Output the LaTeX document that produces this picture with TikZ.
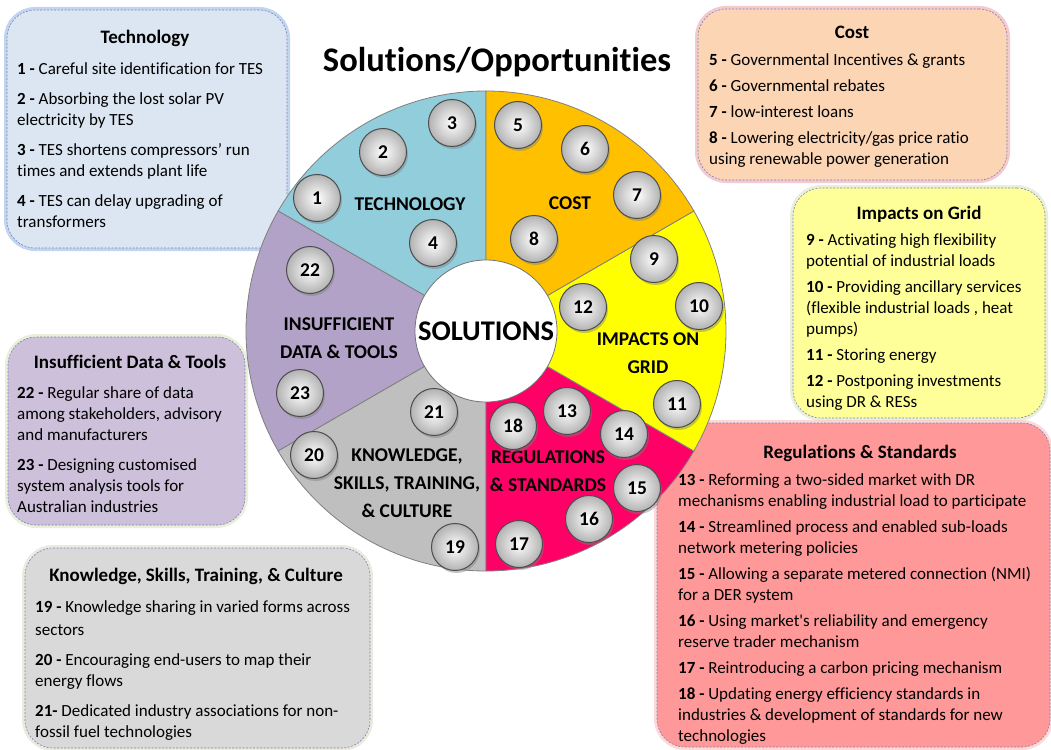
\documentclass[tikz,border=0pt]{standalone}
\usepackage{fontspec}
\setmainfont{Carlito}[Ligatures={NoCommon,TeXOff}]
\usetikzlibrary{calc,shadows}
\definecolor{wtech}{HTML}{92CDDC}
\definecolor{wcost}{HTML}{FFC000}
\definecolor{wgrid}{HTML}{FFFF00}
\definecolor{wreg}{HTML}{FF0066}
\definecolor{wknow}{HTML}{BFBFBF}
\definecolor{wins}{HTML}{B3A2C7}
\definecolor{btech}{HTML}{DCE6F2}
\definecolor{bcost}{HTML}{FCD5B5}
\definecolor{bgrid}{HTML}{FFFF99}
\definecolor{breg}{HTML}{FF9999}
\definecolor{bins}{HTML}{CCC0DA}
\definecolor{bknow}{HTML}{D9D9D9}
\definecolor{gtech}{HTML}{8EB4E3}
\definecolor{gcost}{HTML}{EBA0A8}
\definecolor{ggrid}{HTML}{D7E4BD}
\definecolor{greg}{HTML}{FFB8B8}
\definecolor{gins}{HTML}{D7E4BD}
\definecolor{gknow}{HTML}{DDD9C3}
\definecolor{dashc}{HTML}{7F7FB8}
\begin{document}
\begin{tikzpicture}[x=1pt,y=-1pt,
  wedge/.style={fill=#1, draw=black!50, line width=0.8pt},
  numc/.style={circle, minimum size=47pt, inner sep=0pt, draw=black!70, line width=1pt,
    inner color=white, outer color=black!30,
    drop shadow={shadow xshift=1.5pt, shadow yshift=-2.5pt, opacity=0.45},
    font=\bfseries\fontsize{19.5}{19.5}\selectfont},
  wlabel/.style={font=\bfseries\fontsize{19.5}{28}\selectfont, align=center, inner sep=0pt},
  infobox/.style n args={2}{rectangle, rounded corners=28pt, fill=#1, draw=dashc,
    line width=0.6pt, dash pattern=on 2pt off 1.5pt,
    preaction={draw=#2, line width=6pt, opacity=0.55, solid}},
  btitle/.style={font=\bfseries\fontsize{19}{19}\selectfont, inner sep=0pt, anchor=base},
  btext/.style={font=\fontsize{17}{21}\selectfont, align=left, inner sep=0pt, anchor=north west},
]
\useasboundingbox (0,0) rectangle (1051,749);
\fill[white] (0,0) rectangle (1051,749);

% info boxes (drawn below the wheel)
\node[infobox={btech}{gtech}, minimum width=280pt, minimum height=238pt] (btechn) at (147,129) {};
\node[infobox={bcost}{gcost}, minimum width=309pt, minimum height=171pt] (bcostn) at (852.5,94.5) {};
\node[infobox={bgrid}{ggrid}, minimum width=252pt, minimum height=230pt] (bgridn) at (919,303) {};
\node[infobox={breg}{greg}, minimum width=393pt, minimum height=324pt] (bregn) at (853.5,585) {};
\node[infobox={bins}{gins}, minimum width=237pt, minimum height=188pt] (binsn) at (126.5,431) {};
\node[infobox={bknow}{gknow}, minimum width=345pt, minimum height=200pt] (bknown) at (197.5,648) {};

\node[btitle] (ttech) at (145,44) {Technology};
\node[btext] (xtech) at (17,62.5) {\textbf{1 -} Careful site identification for TES\\[9pt]
\textbf{2 -} Absorbing the lost solar PV\\electricity by TES\\[9pt]
\textbf{3 -} TES shortens compressors’ run\\times and extends plant life\\[9pt]
\textbf{4 -} TES can delay upgrading of\\transformers};

\node[btitle] (tcost) at (852,39) {Cost};
\node[btext] (xcost) at (709,53.5) {\textbf{5 -} Governmental Incentives \& grants\\[5pt]
\textbf{6 -} Governmental rebates\\[5pt]
\textbf{7 -} low-interest loans\\[5pt]
\textbf{8 -} Lowering electricity/gas price ratio\\using renewable power generation};

\node[btitle] (tgrid) at (919,219) {Impacts on Grid};
\node[btext] (xgrid) at (806,233.5) {\textbf{9 -} Activating high flexibility\\potential of industrial loads\\[5pt]
\textbf{10 -} Providing ancillary services\\(flexible industrial loads , heat\\pumps)\\[5pt]
\textbf{11 -} Storing energy\\[5pt]
\textbf{12 -} Postponing investments\\using DR \& RESs};

\node[btitle] (treg) at (860,458) {Regulations \& Standards};
\node[btext] (xreg) at (678,473.5) {\textbf{13 -} Reforming a two-sided market with DR\\mechanisms enabling industrial load to participate\\[5pt]
\textbf{14 -} Streamlined process and enabled sub-loads\\network metering policies\\[5pt]
\textbf{15 -} Allowing a separate metered connection (NMI)\\for a DER system\\[5pt]
\textbf{16 -} Using market's reliability and emergency\\reserve trader mechanism\\[5pt]
\textbf{17 -} Reintroducing a carbon pricing mechanism\\[5pt]
\textbf{18 -} Updating energy efficiency standards in\\industries \& development of standards for new\\technologies};

\node[btitle] (tins) at (130,368) {Insufficient Data \& Tools};
\node[btext] (xins) at (17,386.5) {\textbf{22 -} Regular share of data\\among stakeholders, advisory\\and manufacturers\\[9pt]
\textbf{23 -} Designing customised\\system analysis tools for\\Australian industries};

\node[btitle] (tknow) at (196,581) {Knowledge, Skills, Training, \& Culture};
\node[btext] (xknow) at (35,600.5) {\textbf{19 -} Knowledge sharing in varied forms across\\[2pt]sectors\\[9pt]
\textbf{20 -} Encouraging end-users to map their\\energy flows\\[9pt]
\textbf{21-} Dedicated industry associations for non-\\fossil fuel technologies};

% title
\node[font=\bfseries\fontsize{34.5}{35}\selectfont, inner sep=0pt] (title) at (497,62) {Solutions/Opportunities};

% wheel
\coordinate (c) at (486,331);
\path[wedge=wtech] (c) -- ($(c)+(90:240pt)$) arc[start angle=90,end angle=150,radius=240pt] -- cycle;
\path[wedge=wins]  (c) -- ($(c)+(150:240pt)$) arc[start angle=150,end angle=210,radius=240pt] -- cycle;
\path[wedge=wknow] (c) -- ($(c)+(210:240pt)$) arc[start angle=210,end angle=270,radius=240pt] -- cycle;
\path[wedge=wreg]  (c) -- ($(c)+(270:240pt)$) arc[start angle=270,end angle=330,radius=240pt] -- cycle;
\path[wedge=wgrid] (c) -- ($(c)+(-30:240pt)$) arc[start angle=-30,end angle=30,radius=240pt] -- cycle;
\path[wedge=wcost] (c) -- ($(c)+(30:240pt)$) arc[start angle=30,end angle=90,radius=240pt] -- cycle;

\node[circle, fill=white, draw=black!55, line width=0.8pt, minimum size=142pt, inner sep=0pt,
  font=\bfseries\fontsize{28.5}{29}\selectfont] (sol) at (c) {SOLUTIONS};

% wedge labels
\node[wlabel] (ltech) at (410,204) {TECHNOLOGY};
\node[wlabel] (lcost) at (570,203) {COST};
\node[wlabel] (lgrid) at (648,353) {IMPACTS ON\\GRID};
\node[wlabel] (lreg) at (548,471) {REGULATIONS\\\& STANDARDS};
\node[wlabel] (lknow) at (407,483) {KNOWLEDGE,\\SKILLS, TRAINING,\\\& CULTURE};
\node[wlabel] (lins) at (339,338) {INSUFFICIENT\\DATA \& TOOLS};

% numbered circles
\node[numc] (n1) at (317,198) {1};
\node[numc] (n2) at (383,152) {2};
\node[numc] (n3) at (452,123) {3};
\node[numc] (n4) at (433,243) {4};
\node[numc] (n5) at (518,125) {5};
\node[numc] (n6) at (585,149) {6};
\node[numc] (n7) at (637,195) {7};
\node[numc] (n8) at (534,239) {8};
\node[numc] (n9) at (654,259) {9};
\node[numc] (n10) at (699,306) {10};
\node[numc] (n11) at (677,404) {11};
\node[numc] (n12) at (583,307) {12};
\node[numc] (n13) at (567,411) {13};
\node[numc] (n14) at (624,434) {14};
\node[numc] (n15) at (637,488) {15};
\node[numc] (n16) at (589,519) {16};
\node[numc] (n17) at (519,544) {17};
\node[numc] (n18) at (513,426) {18};
\node[numc] (n19) at (455,547) {19};
\node[numc] (n20) at (314,455) {20};
\node[numc] (n21) at (434,412) {21};
\node[numc] (n22) at (310,270) {22};
\node[numc] (n23) at (300,393) {23};
\end{tikzpicture}
\end{document}
